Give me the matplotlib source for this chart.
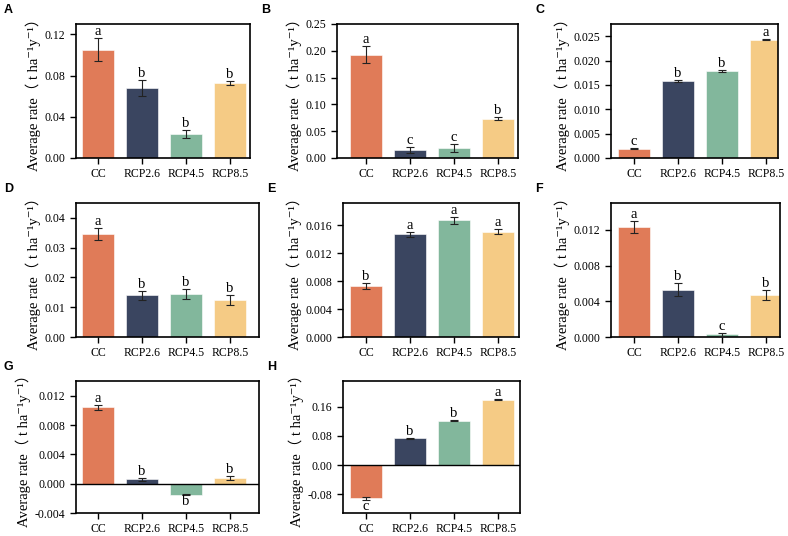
import numpy as np
import matplotlib
matplotlib.use('Agg')
import matplotlib.pyplot as plt

plt.rcParams['font.family'] = ['Liberation Serif', 'Noto Sans CJK SC', 'DejaVu Serif']
plt.rcParams['axes.unicode_minus'] = False

scenarios = ['CC', 'RCP2.6', 'RCP4.5', 'RCP8.5']
colors = ['#E07B58', '#3A4560', '#82B79C', '#F5CB85']

# panel data: mean, error, significance letters
a_vals = [0.105, 0.068, 0.023, 0.073]
a_err = [0.011, 0.008, 0.004, 0.002]
a_sig = ['a', 'b', 'b', 'b']

b_vals = [0.193, 0.015, 0.019, 0.073]
b_err = [0.016, 0.006, 0.007, 0.003]
b_sig = ['a', 'c', 'c', 'b']

c_vals = [0.0019, 0.0158, 0.0178, 0.0243]
c_err = [0.0001, 0.0002, 0.0002, 0.0001]
c_sig = ['c', 'b', 'b', 'a']

d_vals = [0.0345, 0.0140, 0.0145, 0.0124]
d_err = [0.0020, 0.0016, 0.0017, 0.0017]
d_sig = ['a', 'b', 'b', 'b']

e_vals = [0.0073, 0.0147, 0.0167, 0.0151]
e_err = [0.0004, 0.0004, 0.0005, 0.0004]
e_sig = ['b', 'a', 'a', 'a']

f_vals = [0.0123, 0.0053, 0.0003, 0.0047]
f_err = [0.0007, 0.0007, 0.0002, 0.0006]
f_sig = ['a', 'b', 'c', 'b']

g_vals = [0.0104, 0.0006, -0.0015, 0.0008]
g_err = [0.0003, 0.0002, 0.0001, 0.0003]
g_sig = ['a', 'b', 'b', 'b']

h_vals = [-0.092, 0.073, 0.122, 0.180]
h_err = [0.003, 0.002, 0.001, 0.001]
h_sig = ['c', 'b', 'b', 'a']

yticks = {
    'A': (np.arange(0, 0.121, 0.04), '{:.2f}'),
    'B': (np.arange(0, 0.251, 0.05), '{:.2f}'),
    'C': (np.arange(0, 0.0251, 0.005), '{:.3f}'),
    'D': (np.arange(0, 0.041, 0.01), '{:.2f}'),
    'E': (np.arange(0, 0.0161, 0.004), '{:.3f}'),
    'F': (np.arange(0, 0.0121, 0.004), '{:.3f}'),
    'G': (np.arange(-0.004, 0.0121, 0.004), '{:.3f}'),
    'H': (np.arange(-0.08, 0.161, 0.08), '{:.2f}'),
}
ylims = {'A': (0, 0.13), 'B': (0, 0.25), 'C': (0, 0.0275), 'D': (0, 0.045),
         'E': (0, 0.0192), 'F': (0, 0.015), 'G': (-0.004, 0.014), 'H': (-0.132, 0.231)}

panels = [
    ('A', a_vals, a_err, a_sig),
    ('B', b_vals, b_err, b_sig),
    ('C', c_vals, c_err, c_sig),
    ('D', d_vals, d_err, d_sig),
    ('E', e_vals, e_err, e_sig),
    ('F', f_vals, f_err, f_sig),
    ('G', g_vals, g_err, g_sig),
    ('H', h_vals, h_err, h_sig),
]

# axes boxes in pixels: left, right, top, bottom
W, H = 788, 536
boxes = {
    'A': (76, 250, 24, 158), 'B': (337, 518, 24, 158), 'C': (611, 778, 24, 158),
    'D': (76, 259, 203, 337), 'E': (343, 519, 203, 337), 'F': (611, 780, 203, 337),
    'G': (76, 259, 381, 513), 'H': (343, 520, 381, 513),
}
first_bar = {'A': 98, 'B': 366, 'C': 634, 'D': 98, 'E': 366, 'F': 634, 'G': 98, 'H': 366}
spacing = 44.0

fig = plt.figure(figsize=(W / 100, H / 100), dpi=100)

for name, vals, err, sig in panels:
    l, r, t, b = boxes[name]
    ax = fig.add_axes([l / W, 1 - b / H, (r - l) / W, (b - t) / H])
    x = np.arange(len(scenarios))
    ax.bar(x, vals, width=0.72, color=colors, edgecolor='white', linewidth=0.4, zorder=2)
    ax.errorbar(x, vals, yerr=err, fmt='none', ecolor='#222222', elinewidth=0.8,
                capsize=3, capthick=0.8, zorder=3)
    for xi, v, e, s in zip(x, vals, err, sig):
        if v >= 0:
            ax.annotate(s, (xi, v + e), xytext=(0, 0), textcoords='offset points',
                        ha='center', va='bottom', fontsize=10.5)
        else:
            ax.annotate(s, (xi, v - e), xytext=(0, 0), textcoords='offset points',
                        ha='center', va='top', fontsize=10.5)
    if name in ('G', 'H'):
        ax.axhline(0, color='black', lw=1.0, zorder=4)
    x0 = (l - first_bar[name]) / spacing
    x1 = (r - first_bar[name]) / spacing
    ax.set_xlim(x0, x1)
    ax.set_ylim(*ylims[name])
    ticks, fmt = yticks[name]
    ax.set_yticks(ticks)
    ax.set_yticklabels([fmt.format(v) if abs(v) > 1e-12 else fmt.format(0) for v in ticks])
    ax.set_xticks(x)
    ax.set_xticklabels(scenarios)
    ax.tick_params(labelsize=8.5, length=4.5, width=1, direction='out', pad=3)
    for sp in ax.spines.values():
        sp.set_linewidth(1.2)
    ax.set_ylabel('Average rate（ t ha⁻¹y⁻¹）', fontsize=10.5, labelpad=3)
    fig.text((l - 72) / W if name in ('A', 'D', 'G') else (l - 76) / W, 1 - (t - 14) / H,
             name, family='Liberation Sans', weight='bold', fontsize=9, va='center')

fig.savefig('out.png', dpi=100)
